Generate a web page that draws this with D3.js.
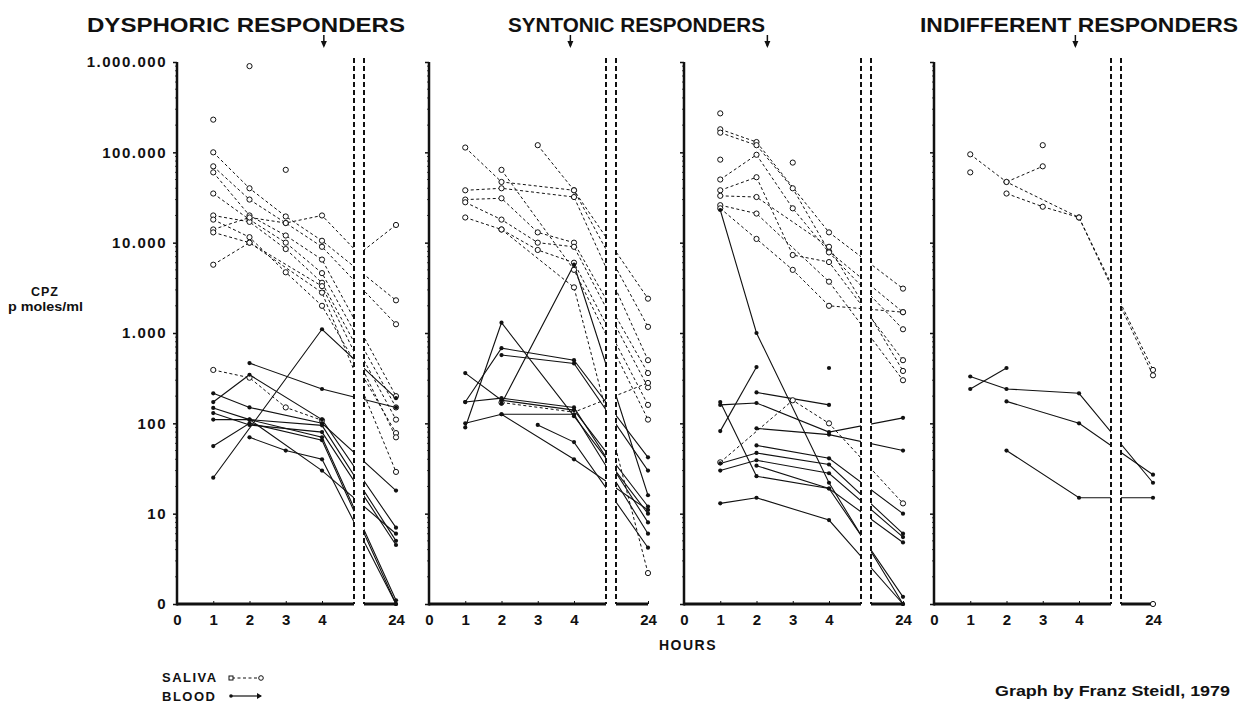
<!DOCTYPE html>
<html>
<head>
<meta charset="utf-8">
<style>
  body { margin: 0; background: #fff; }
  text { font-family: "Liberation Sans", Arial, sans-serif; font-weight: bold; fill: #111; }
</style>
</head>
<body>
<script src="https://cdn.jsdelivr.net/npm/d3@7/dist/d3.min.js"></script>
<script>
// columns of every series: 1h, 2h, 3h, 4h, value where the line crosses the axis break, 24h
const hours = [1, 2, 3, 4, 6, 24];
const xTicks = [0, 1, 2, 3, 4, 24];
const yTicks = [1, 10, 100, 1000, 10000, 100000, 1000000];
const titles = ["DYSPHORIC RESPONDERS", "SYNTONIC RESPONDERS", "INDIFFERENT RESPONDERS"];
const arrowHours = [4.1, 3.9, 2.3, 3.9];

const salivaDysphoric = [
  [100000, 40000, 19500, 10500, null, 2300],
  [70000, 30000, 16500, 9000, null, 1250],
  [60000, 20000, 12000, 6500, null, 200],
  [35000, 18000, 10000, 4600, null, 150],
  [20000, 17000, 8500, 3600, null, 110],
  [18000, 11500, 4700, 2000, null, 78],
  [14000, 19000, 16500, 20000, 7500, 15700],
  [13000, 10000, null, 3300, null, 70],
  [5700, 10000, null, 2800, null, 29],
  [390, 320, 150, 108, null, null],
  [230000, null, null, null, null, null],
  [null, 900000, null, null, null, null],
  [null, null, 64000, null, null, null]
];
const bloodDysphoric = [
  [null, 464, null, 240, null, 150],
  [25, null, null, 1100, null, 190],
  [215, 150, null, 100, null, 18],
  [172, 345, null, 110, null, 7],
  [148, 110, null, 95, null, 5],
  [130, 96, null, 80, null, 4.5],
  [110, 110, null, 70, null, 1.1],
  [56, 100, null, 65, null, 1],
  [null, 70, 50, 40, null, 1],
  [null, 110, null, 30, null, 6]
];

const salivaSyntonicA = [
  [113000, 47000, null, 38000, null, 2400],
  [null, null, 120000, 38000, null, 1170],
  [38000, 40000, null, 32000, null, 500],
  [30000, 31000, 13000, 10000, null, 360],
  [28000, 18000, 10000, 9000, null, 250],
  [19000, 14000, 8300, 6000, null, 160],
  [null, 64000, null, 5000, null, 110],
  [null, 14000, null, 3200, null, 2.2],
  [null, 170, null, 133, null, 280]
];
const bloodSyntonicA = [
  [null, 165, null, 5700, null, 16],
  [90, 1300, null, 120, null, 10],
  [172, 680, null, 500, null, 42],
  [null, 570, null, 460, null, 30],
  [360, 180, null, 140, null, 12],
  [172, 190, null, 150, null, 8],
  [100, 126, null, 126, null, 6],
  [null, null, 96, 62, null, 4.2],
  [null, 126, null, 40, null, 11]
];

const salivaSyntonicB = [
  [180000, 130000, null, 13000, null, 3100],
  [165000, 120000, 40000, 8000, null, 1700],
  [50000, 94000, 24000, 7800, null, 1100],
  [38000, 53000, 7300, 6100, null, 500],
  [33000, 32000, null, 9000, null, 380],
  [26000, 21000, null, 3700, null, 300],
  [24000, 11000, 5000, 2000, null, 1700],
  [270000, null, null, null, null, null],
  [83000, null, null, null, null, null],
  [null, null, 77000, null, null, null],
  [37, null, 180, 100, null, 13]
];
const bloodSyntonicB = [
  [23000, 1000, null, 22, null, 1],
  [82, 420, null, null, null, null],
  [172, 26, null, 19, null, 1.2],
  [160, 168, null, 80, null, 115],
  [null, 88, null, 75, null, 50],
  [null, 57, null, 41, null, 10],
  [36, 47, null, 35, null, 6],
  [30, 39, null, 28, null, 5.5],
  [13, 15, null, 8.5, null, 1],
  [null, 34, null, 19, null, 4.8],
  [null, 220, null, 160, null, null],
  [null, null, null, 410, null, null]
];

const salivaIndifferent = [
  [95000, 47000, null, 19000, null, 390],
  [null, 47000, 70000, null, null, null],
  [null, 35000, 25000, 19000, null, 340],
  [60000, null, null, null, null, null],
  [null, null, 120000, null, null, null],
  [null, null, null, null, null, 1]
];
const bloodIndifferent = [
  [330, 240, null, 215, null, 22],
  [240, 410, null, null, null, null],
  [null, 175, null, 100, null, 27],
  [null, 50, null, 15, null, 15]
];

const panels = [
  { saliva: salivaDysphoric, blood: bloodDysphoric },
  { saliva: salivaSyntonicA, blood: bloodSyntonicA },
  { saliva: salivaSyntonicB, blood: bloodSyntonicB },
  { saliva: salivaIndifferent, blood: bloodIndifferent }
];

const width = 1249, height = 706;
const panelLeft = [177, 429, 684, 934];
const titleBox = [[87, 318], [508, 257], [920, 318]];
const breakL = 177, breakR = 187;
const ink = "#111";

const y = d3.scaleLog().domain([1, 1000000]).range([604, 62]);
const x = d3.scaleLinear().domain([0, 4, 6, 24]).range([0, 145, 182, 219]);

const fmt = d => d === 1 ? "0" : d3.format(",")(d).replace(/,/g, ".");

const svg = d3.select("body").append("svg")
  .attr("width", width).attr("height", height)
  .style("background", "#fff");

const clip = svg.append("defs").append("clipPath").attr("id", "gap");
clip.append("rect").attr("x", -10).attr("y", 0).attr("width", breakL + 10).attr("height", height);
clip.append("rect").attr("x", breakR).attr("y", 0).attr("width", 60).attr("height", height);

const line = d3.line().x(d => x(d[0])).y(d => y(d[1]));

panels.forEach(function (p, pi) {
  const g = svg.append("g").attr("transform", "translate(" + panelLeft[pi] + ",0)");

  // y axis
  const ya = g.append("g").call(d3.axisLeft(y).tickValues(yTicks).tickSize(4).tickPadding(6)
    .tickFormat(pi === 0 ? fmt : ""));
  ya.select(".domain").remove();
  ya.selectAll(".tick line").attr("stroke", ink).attr("stroke-width", 1.5);
  ya.selectAll(".tick text").attr("font-size", 15).attr("letter-spacing", 1.5)
    .attr("font-family", "Liberation Sans, Arial, sans-serif").attr("font-weight", "bold").attr("fill", ink);
  const minor = [];
  yTicks.slice(0, -1).forEach(d => { for (let m = 2; m < 10; m++) minor.push(d * m); });
  g.selectAll(".minor").data(minor).enter().append("line")
    .attr("x1", -2).attr("x2", 0).attr("y1", d => y(d)).attr("y2", d => y(d))
    .attr("stroke", ink).attr("stroke-width", 0.8);
  g.append("line").attr("x1", 0).attr("x2", 0).attr("y1", y(1000000)).attr("y2", y(1) + 1.5)
    .attr("stroke", ink).attr("stroke-width", 2.5);

  // x axis
  const xa = g.append("g").attr("transform", "translate(0," + y(1) + ")")
    .call(d3.axisBottom(x).tickValues(xTicks).tickSize(-3).tickPadding(10));
  xa.select(".domain").remove();
  xa.selectAll(".tick line").attr("stroke", ink).attr("stroke-width", 1);
  xa.selectAll(".tick text").attr("font-size", 15)
    .attr("font-family", "Liberation Sans, Arial, sans-serif").attr("font-weight", "bold").attr("fill", ink);
  [[0, breakL], [breakR, x(24)]].forEach(function (s) {
    g.append("line").attr("x1", s[0]).attr("x2", s[1]).attr("y1", y(1)).attr("y2", y(1))
      .attr("stroke", ink).attr("stroke-width", 3);
  });

  // axis break
  [breakL, breakR].forEach(function (bx) {
    g.append("line").attr("x1", bx).attr("x2", bx).attr("y1", 58).attr("y2", y(1))
      .attr("stroke", ink).attr("stroke-width", 2).attr("stroke-dasharray", "5,3");
  });

  // series
  const plot = g.append("g").attr("clip-path", "url(#gap)");
  const toPts = s => hours.map((h, i) => [h, s[i], i]).filter(d => d[1] != null);

  p.saliva.forEach(function (s) {
    const pts = toPts(s);
    if (pts.length > 1) plot.append("path").attr("d", line(pts)).attr("fill", "none")
      .attr("stroke", ink).attr("stroke-width", 1).attr("stroke-dasharray", "3,2.5");
  });
  p.blood.forEach(function (s) {
    const pts = toPts(s);
    if (pts.length > 1) plot.append("path").attr("d", line(pts)).attr("fill", "none")
      .attr("stroke", ink).attr("stroke-width", 1.1);
  });
  p.saliva.forEach(function (s) {
    plot.selectAll(null).data(toPts(s).filter(d => d[2] !== 4)).enter().append("circle")
      .attr("cx", d => x(d[0])).attr("cy", d => y(d[1])).attr("r", 2.6)
      .attr("fill", "#fff").attr("stroke", ink).attr("stroke-width", 1);
  });
  p.blood.forEach(function (s) {
    plot.selectAll(null).data(toPts(s).filter(d => d[2] !== 4)).enter().append("circle")
      .attr("cx", d => x(d[0])).attr("cy", d => y(d[1])).attr("r", 2.1)
      .attr("fill", ink);
  });

  // arrow under the title
  const ax = x(arrowHours[pi]);
  g.append("line").attr("x1", ax).attr("x2", ax).attr("y1", 35).attr("y2", 46)
    .attr("stroke", ink).attr("stroke-width", 1.5);
  g.append("path").attr("d", "M" + (ax - 3) + ",41L" + (ax + 3) + ",41L" + ax + ",48Z").attr("fill", ink);
});

// titles
titles.forEach(function (t, i) {
  svg.append("text").attr("x", titleBox[i][0]).attr("y", 32)
    .attr("font-size", 21).attr("textLength", titleBox[i][1]).attr("lengthAdjust", "spacingAndGlyphs")
    .text(t);
});

// y label
svg.append("text").attr("x", 45).attr("y", 296).attr("text-anchor", "middle")
  .attr("font-size", 12.5).attr("letter-spacing", 1).text("CPZ");
svg.append("text").attr("x", 8).attr("y", 311).attr("font-size", 12.5)
  .attr("textLength", 75).attr("lengthAdjust", "spacingAndGlyphs").text("p moles/ml");

svg.append("text").attr("x", 688).attr("y", 650).attr("text-anchor", "middle")
  .attr("font-size", 14).attr("letter-spacing", 1.5).text("HOURS");

// legend
svg.append("text").attr("x", 162).attr("y", 682).attr("font-size", 13).attr("letter-spacing", 1.5).text("SALIVA");
svg.append("text").attr("x", 162).attr("y", 701).attr("font-size", 13).attr("letter-spacing", 1.5).text("BLOOD");
svg.append("line").attr("x1", 232).attr("x2", 260).attr("y1", 678).attr("y2", 678)
  .attr("stroke", ink).attr("stroke-width", 1).attr("stroke-dasharray", "3,2.5");
svg.append("rect").attr("x", 229).attr("y", 676).attr("width", 4).attr("height", 4)
  .attr("fill", "#fff").attr("stroke", ink);
svg.append("circle").attr("cx", 261).attr("cy", 678).attr("r", 2.3).attr("fill", "#fff").attr("stroke", ink);
svg.append("line").attr("x1", 231).attr("x2", 261).attr("y1", 696).attr("y2", 696)
  .attr("stroke", ink).attr("stroke-width", 1.2);
svg.append("circle").attr("cx", 231).attr("cy", 696).attr("r", 1.8).attr("fill", ink);
svg.append("path").attr("d", "M257,693L262,696L257,699Z").attr("fill", ink);

svg.append("text").attr("x", 995).attr("y", 696).attr("font-size", 14)
  .attr("textLength", 235).attr("lengthAdjust", "spacingAndGlyphs").text("Graph by Franz Steidl, 1979");
</script>
</body>
</html>
